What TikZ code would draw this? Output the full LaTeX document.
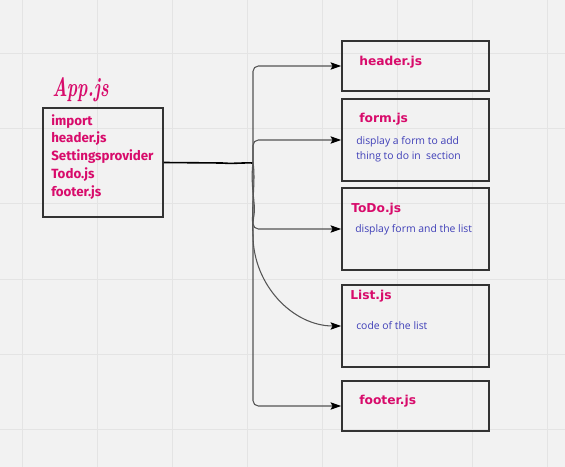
\documentclass[tikz,border=0pt]{standalone}
\usepackage{graphicx}
\usepackage{fontspec}
\setmainfont{Fira Sans}
\newfontfamily\titlefont{DejaVu Sans}
\newfontfamily\descfont{Open Sans}
\newfontfamily\handfont{Latin Modern Roman}
\usetikzlibrary{arrows.meta}
\definecolor{bg}{HTML}{F2F2F2}
\definecolor{gridc}{HTML}{E4E4E4}
\definecolor{pinkc}{HTML}{D80B6B}
\definecolor{bluec}{HTML}{3F3FB8}
\definecolor{boxc}{HTML}{333333}
\definecolor{linec}{HTML}{555555}
\tikzset{
  box/.style={draw=boxc, line width=1.2pt, minimum width=110.25pt, inner sep=0pt},
  ttl/.style={anchor=west, inner sep=0pt, text=pinkc, font=\titlefont\bfseries\fontsize{9.2}{11}\selectfont},
  dsc/.style={anchor=west, inner sep=0pt, text=bluec, font=\descfont\fontsize{7.8}{11.3}\selectfont, align=left},
  tip/.style={-{Stealth[length=8pt,width=5.5pt,inset=1.5pt,color=black]}},
  conn/.style={draw=linec, line width=0.8pt, rounded corners=4pt, tip},
}
\begin{document}
\begin{tikzpicture}[x=0.75pt,y=-0.75pt]
\fill[bg] (0,0) rectangle (565,467);
\useasboundingbox (0,0) rectangle (565,467);
\foreach \gx in {22,97,172,247,322,397,472,547} \draw[gridc, line width=0.75pt] (\gx,0) -- (\gx,467);
\foreach \gy in {54,129,204,279,354,429} \draw[gridc, line width=0.75pt] (0,\gy) -- (565,\gy);

% App box
\node[box, minimum width=90pt, minimum height=81.75pt] (app) at (103,162.5) {};
\node[anchor=south west, inner sep=0pt, text=pinkc, font=\handfont\bfseries\itshape\fontsize{20}{22}\selectfont] (apptitle) at (52,102) {\scalebox{0.66}[1]{App.js}};
\node[anchor=north west, inner sep=0pt, text=pinkc, align=left, font=\bfseries\fontsize{10}{13.3}\selectfont] (applist) at (51,114)
  {import\\header.js\\Settingsprovider\\Todo.js\\footer.js};

% right boxes
\node[box, minimum height=37.5pt] (header) at (415.5,66) {};
\node[box, minimum height=61.5pt] (form) at (415.5,140) {};
\node[box, minimum height=61.5pt] (todo) at (415.5,229) {};
\node[box, minimum height=61.5pt] (list) at (415.5,326) {};
\node[box, minimum height=37.5pt] (footer) at (415.5,406) {};

\node[ttl] (t1) at (359,62) {header.js};
\node[ttl] (t2) at (359,119) {form.js};
\node[dsc] (d2) at (356,149) {display a form to add\\thing to do in\ \ section};
\node[ttl] (t3) at (351,209) {ToDo.js};
\node[dsc] (d3) at (355,230) {display form and the list};
\node[ttl] (t4) at (350,296) {List.js};
\node[dsc] (d4) at (356,326) {code of the list};
\node[ttl] (t5) at (359,401) {footer.js};

% connectors
\coordinate (j) at (253,163);
\draw[black, line width=1.2pt] (app.east) -- (222,163) .. controls (233,164) and (243,162.5) .. (j);
\draw[conn] (j) |- (header.west);
\draw[conn] (j) |- (form.west);
\draw[conn] (j) .. controls (250,185) and (256,205) .. (253,220) |- (todo.west);
\draw[draw=linec, line width=0.8pt, tip] (j) .. controls (256,180) and (251,205) .. (253,235) .. controls (253,285) and (293,326) .. (list.west);
\draw[conn] (j) |- (footer.west);
\end{tikzpicture}
\end{document}
